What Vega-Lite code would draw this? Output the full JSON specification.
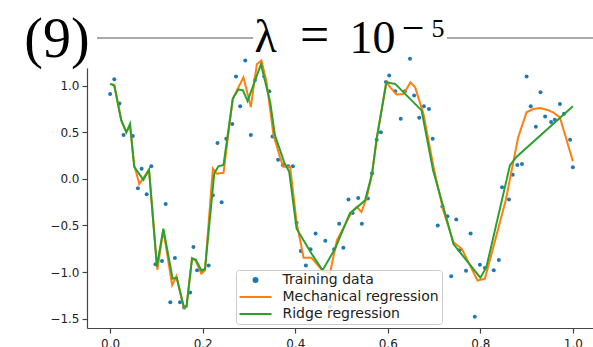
{
  "$schema": "https://vega.github.io/schema/vega-lite/v6.json",
  "width": 509,
  "height": 260,
  "autosize": {"type": "none"},
  "padding": {"left": 87, "top": 68, "right": 0, "bottom": 20},
  "background": "white",
  "config": {
    "view": {"stroke": null},
    "axis": {
      "grid": false,
      "labelFont": "DejaVu Sans",
      "labelFontSize": 12,
      "labelColor": "#222222",
      "domainColor": "#444444",
      "domainWidth": 1.2,
      "tickColor": "#444444",
      "tickWidth": 1.2,
      "tickSize": 5,
      "labelPadding": 3
    }
  },
  "datasets": {
    "training": [
      {"x": 0.000, "y": 0.91}, {"x": 0.009, "y": 1.07}, {"x": 0.020, "y": 0.81}, {"x": 0.029, "y": 0.47},
      {"x": 0.049, "y": 0.46}, {"x": 0.060, "y": -0.10}, {"x": 0.068, "y": 0.11}, {"x": 0.079, "y": -0.165},
      {"x": 0.089, "y": 0.135}, {"x": 0.098, "y": -0.915}, {"x": 0.112, "y": -0.88}, {"x": 0.120, "y": -0.27},
      {"x": 0.130, "y": -1.325}, {"x": 0.140, "y": -0.85}, {"x": 0.151, "y": -1.325}, {"x": 0.160, "y": -1.38},
      {"x": 0.173, "y": -1.22}, {"x": 0.180, "y": -0.73}, {"x": 0.188, "y": -0.98}, {"x": 0.200, "y": -0.985},
      {"x": 0.213, "y": -0.93}, {"x": 0.222, "y": -0.175}, {"x": 0.232, "y": 0.385}, {"x": 0.241, "y": -0.25},
      {"x": 0.251, "y": 0.43}, {"x": 0.264, "y": 0.59}, {"x": 0.272, "y": 1.10}, {"x": 0.281, "y": 0.78},
      {"x": 0.292, "y": 1.27}, {"x": 0.304, "y": 0.47}, {"x": 0.313, "y": 1.06}, {"x": 0.333, "y": 1.10},
      {"x": 0.344, "y": 0.94}, {"x": 0.351, "y": 0.455}, {"x": 0.363, "y": 0.205}, {"x": 0.373, "y": 0.15},
      {"x": 0.385, "y": 0.135}, {"x": 0.395, "y": 0.135}, {"x": 0.403, "y": -0.47}, {"x": 0.412, "y": -0.775},
      {"x": 0.423, "y": -0.93}, {"x": 0.433, "y": -0.755}, {"x": 0.444, "y": -0.585}, {"x": 0.465, "y": -0.665},
      {"x": 0.475, "y": -1.375}, {"x": 0.484, "y": -0.755}, {"x": 0.495, "y": -0.48}, {"x": 0.504, "y": -0.74},
      {"x": 0.515, "y": -0.22}, {"x": 0.524, "y": -0.365}, {"x": 0.536, "y": -0.205}, {"x": 0.544, "y": -0.48},
      {"x": 0.557, "y": -0.21}, {"x": 0.566, "y": 0.06}, {"x": 0.576, "y": 0.42}, {"x": 0.585, "y": 0.50},
      {"x": 0.596, "y": 1.04}, {"x": 0.603, "y": 1.11}, {"x": 0.616, "y": 0.94}, {"x": 0.628, "y": 0.645},
      {"x": 0.637, "y": 0.94}, {"x": 0.648, "y": 1.29}, {"x": 0.657, "y": 0.895}, {"x": 0.668, "y": 0.655},
      {"x": 0.678, "y": 0.78}, {"x": 0.689, "y": 0.75}, {"x": 0.697, "y": 0.43}, {"x": 0.708, "y": -0.50},
      {"x": 0.718, "y": -0.295}, {"x": 0.729, "y": -0.40}, {"x": 0.737, "y": -1.045}, {"x": 0.748, "y": -0.435},
      {"x": 0.755, "y": -0.765}, {"x": 0.769, "y": -0.985}, {"x": 0.779, "y": -0.585}, {"x": 0.788, "y": -1.48},
      {"x": 0.799, "y": -0.92}, {"x": 0.810, "y": -0.955}, {"x": 0.829, "y": -0.98}, {"x": 0.840, "y": -0.87},
      {"x": 0.847, "y": -0.09}, {"x": 0.862, "y": -0.22}, {"x": 0.870, "y": 0.045}, {"x": 0.880, "y": 0.15},
      {"x": 0.890, "y": 0.16}, {"x": 0.900, "y": 1.10}, {"x": 0.909, "y": 0.78}, {"x": 0.920, "y": 0.56},
      {"x": 0.930, "y": 0.93}, {"x": 0.940, "y": 0.67}, {"x": 0.953, "y": 0.61}, {"x": 0.961, "y": 0.635},
      {"x": 0.972, "y": 0.805}, {"x": 0.981, "y": 0.70}, {"x": 0.994, "y": 0.42}, {"x": 1.000, "y": 0.125}
    ],
    "mechanical": [
      {"x": 0.002, "y": 1.02}, {"x": 0.009, "y": 1.01}, {"x": 0.024, "y": 0.63}, {"x": 0.035, "y": 0.50},
      {"x": 0.043, "y": 0.57}, {"x": 0.052, "y": 0.15}, {"x": 0.063, "y": -0.055}, {"x": 0.084, "y": 0.10},
      {"x": 0.102, "y": -0.975}, {"x": 0.115, "y": -0.55}, {"x": 0.134, "y": -1.14}, {"x": 0.143, "y": -1.045},
      {"x": 0.159, "y": -1.38}, {"x": 0.165, "y": -1.37}, {"x": 0.177, "y": -0.85}, {"x": 0.185, "y": -0.88},
      {"x": 0.197, "y": -1.015}, {"x": 0.205, "y": -0.98}, {"x": 0.222, "y": 0.11}, {"x": 0.230, "y": 0.055},
      {"x": 0.245, "y": 0.065}, {"x": 0.265, "y": 0.86}, {"x": 0.288, "y": 1.09}, {"x": 0.295, "y": 0.955},
      {"x": 0.304, "y": 0.77}, {"x": 0.317, "y": 1.23}, {"x": 0.327, "y": 1.27}, {"x": 0.338, "y": 1.04},
      {"x": 0.353, "y": 0.47}, {"x": 0.367, "y": 0.235}, {"x": 0.374, "y": 0.13}, {"x": 0.389, "y": 0.13},
      {"x": 0.403, "y": -0.47}, {"x": 0.418, "y": -0.845}, {"x": 0.435, "y": -0.845}, {"x": 0.459, "y": -0.985},
      {"x": 0.475, "y": -1.015}, {"x": 0.490, "y": -0.66}, {"x": 0.522, "y": -0.355}, {"x": 0.533, "y": -0.30},
      {"x": 0.543, "y": -0.355}, {"x": 0.555, "y": -0.195}, {"x": 0.566, "y": 0.055}, {"x": 0.576, "y": 0.43},
      {"x": 0.597, "y": 1.04}, {"x": 0.605, "y": 0.985}, {"x": 0.619, "y": 0.905}, {"x": 0.634, "y": 0.91},
      {"x": 0.649, "y": 1.035}, {"x": 0.659, "y": 0.985}, {"x": 0.677, "y": 0.70}, {"x": 0.700, "y": 0.10},
      {"x": 0.720, "y": -0.34}, {"x": 0.742, "y": -0.68}, {"x": 0.760, "y": -0.75}, {"x": 0.794, "y": -1.09},
      {"x": 0.810, "y": -1.07}, {"x": 0.855, "y": -0.23}, {"x": 0.868, "y": 0.10}, {"x": 0.882, "y": 0.45},
      {"x": 0.900, "y": 0.715}, {"x": 0.914, "y": 0.75}, {"x": 0.930, "y": 0.76}, {"x": 0.945, "y": 0.74},
      {"x": 0.957, "y": 0.715}, {"x": 0.972, "y": 0.66}, {"x": 1.000, "y": 0.19}
    ],
    "ridge": [
      {"x": 0.000, "y": 1.02}, {"x": 0.009, "y": 1.00}, {"x": 0.024, "y": 0.63}, {"x": 0.035, "y": 0.50},
      {"x": 0.043, "y": 0.59}, {"x": 0.052, "y": 0.13}, {"x": 0.072, "y": -0.01}, {"x": 0.084, "y": 0.10},
      {"x": 0.101, "y": -0.94}, {"x": 0.115, "y": -0.535}, {"x": 0.135, "y": -1.07}, {"x": 0.144, "y": -1.06},
      {"x": 0.159, "y": -1.37}, {"x": 0.165, "y": -1.37}, {"x": 0.177, "y": -0.855}, {"x": 0.185, "y": -0.865},
      {"x": 0.197, "y": -0.98}, {"x": 0.205, "y": -0.97}, {"x": 0.225, "y": 0.06}, {"x": 0.234, "y": 0.135},
      {"x": 0.245, "y": 0.15}, {"x": 0.265, "y": 0.86}, {"x": 0.277, "y": 0.96}, {"x": 0.287, "y": 0.95},
      {"x": 0.297, "y": 0.835}, {"x": 0.326, "y": 1.23}, {"x": 0.346, "y": 0.82}, {"x": 0.356, "y": 0.47},
      {"x": 0.376, "y": 0.18}, {"x": 0.387, "y": 0.075}, {"x": 0.403, "y": -0.535}, {"x": 0.435, "y": -0.80},
      {"x": 0.459, "y": -0.98}, {"x": 0.486, "y": -0.75}, {"x": 0.518, "y": -0.37}, {"x": 0.551, "y": -0.23},
      {"x": 0.566, "y": 0.055}, {"x": 0.576, "y": 0.43}, {"x": 0.597, "y": 1.04}, {"x": 0.605, "y": 1.03},
      {"x": 0.616, "y": 1.02}, {"x": 0.673, "y": 0.735}, {"x": 0.698, "y": 0.09}, {"x": 0.718, "y": -0.265},
      {"x": 0.742, "y": -0.70}, {"x": 0.800, "y": -1.06}, {"x": 0.813, "y": -0.95}, {"x": 0.864, "y": 0.145},
      {"x": 0.878, "y": 0.235}, {"x": 1.000, "y": 0.78}
    ]
  },
  "layer": [
    {
      "data": {"name": "training"},
      "mark": {"type": "point", "filled": true, "size": 16, "opacity": 1},
      "encoding": {
        "x": {"field": "x", "type": "quantitative", "title": null,
              "scale": {"domain": [-0.05, 1.05], "nice": false, "zero": false},
              "axis": {"values": [0, 0.2, 0.4, 0.6, 0.8, 1.0], "format": ".1f", "title": null, "labelPadding": 5}},
        "y": {"field": "y", "type": "quantitative", "title": null,
              "scale": {"domain": [-1.6, 1.19], "nice": false, "zero": false},
              "axis": {"values": [-1.5, -1.0, -0.5, 0.0, 0.5, 1.0], "format": ".1f", "title": null}},
        "color": {
          "datum": "Training data", "type": "nominal",
          "scale": {"domain": ["Training data", "Mechanical regression", "Ridge regression"],
                    "range": ["#1f77b4", "#ff7f0e", "#2ca02c"]},
          "legend": {
            "title": null, "orient": "none", "legendX": 149, "legendY": 202,
            "padding": 3, "strokeColor": "#cccccc", "fillColor": "rgba(255,255,255,0.8)", "cornerRadius": 3,
            "labelFont": "DejaVu Sans", "labelFontSize": 14, "labelColor": "#222222",
            "symbolSize": 16, "symbolStrokeWidth": 2, "symbolOffset": 9.5, "labelOffset": 20, "rowPadding": 3,
            "symbolType": {"expr": "datum.value === 'Training data' ? 'circle' : 'M-8,0L8,0'"},
            "symbolFillColor": {"expr": "scale('color', datum.value)"},
            "symbolStrokeColor": {"expr": "scale('color', datum.value)"},
            "symbolOpacity": 1
          }
        }
      }
    },
    {
      "data": {"name": "mechanical"},
      "mark": {"type": "line", "strokeWidth": 2},
      "encoding": {
        "x": {"field": "x", "type": "quantitative", "title": null},
        "y": {"field": "y", "type": "quantitative", "title": null},
        "color": {"datum": "Mechanical regression", "type": "nominal"}
      }
    },
    {
      "data": {"name": "ridge"},
      "mark": {"type": "line", "strokeWidth": 2},
      "encoding": {
        "x": {"field": "x", "type": "quantitative", "title": null},
        "y": {"field": "y", "type": "quantitative", "title": null},
        "color": {"datum": "Ridge regression", "type": "nominal"}
      }
    },
    {
      "data": {"values": [{}]},
      "mark": {"type": "rule", "color": "#8c8c8c", "strokeWidth": 1.5},
      "encoding": {
        "x": {"datum": -0.0283, "type": "quantitative", "title": null},
        "x2": {"datum": 0.3089},
        "y": {"datum": 1.512, "type": "quantitative", "title": null}
      }
    },
    {
      "data": {"values": [{}]},
      "mark": {"type": "rule", "color": "#8c8c8c", "strokeWidth": 1.5},
      "encoding": {
        "x": {"datum": 0.7281, "type": "quantitative", "title": null},
        "x2": {"datum": 1.06},
        "y": {"datum": 1.512, "type": "quantitative", "title": null}
      }
    },
    {
      "data": {"values": [{}]},
      "mark": {"type": "text", "text": "(9)", "font": "Liberation Serif", "fontSize": 56, "align": "center", "baseline": "alphabetic", "color": "black"},
      "encoding": {
        "x": {"datum": -0.1148, "type": "quantitative", "title": null},
        "y": {"datum": 1.308, "type": "quantitative", "title": null}
      }
    },
    {
      "data": {"values": [{}]},
      "mark": {"type": "text", "text": "λ", "font": "Liberation Serif", "fontSize": 46, "align": "center", "baseline": "alphabetic", "color": "black"},
      "encoding": {
        "x": {"datum": 0.336, "type": "quantitative", "title": null},
        "y": {"datum": 1.362, "type": "quantitative", "title": null}
      }
    },
    {
      "data": {"values": [{}]},
      "mark": {"type": "text", "text": "=", "font": "Liberation Serif", "fontSize": 52, "align": "center", "baseline": "alphabetic", "color": "black"},
      "encoding": {
        "x": {"datum": 0.4418, "type": "quantitative", "title": null},
        "y": {"datum": 1.362, "type": "quantitative", "title": null}
      }
    },
    {
      "data": {"values": [{}]},
      "mark": {"type": "text", "text": "10", "font": "Liberation Serif", "fontSize": 46, "align": "center", "baseline": "alphabetic", "color": "black"},
      "encoding": {
        "x": {"datum": 0.567, "type": "quantitative", "title": null},
        "y": {"datum": 1.351, "type": "quantitative", "title": null}
      }
    },
    {
      "data": {"values": [{}]},
      "mark": {"type": "text", "text": "−", "font": "Liberation Serif", "fontSize": 40, "align": "center", "baseline": "alphabetic", "color": "black"},
      "encoding": {
        "x": {"datum": 0.6547, "type": "quantitative", "title": null},
        "y": {"datum": 1.48, "type": "quantitative", "title": null}
      }
    },
    {
      "data": {"values": [{}]},
      "mark": {"type": "text", "text": "5", "font": "Liberation Serif", "fontSize": 26, "align": "center", "baseline": "alphabetic", "color": "black"},
      "encoding": {
        "x": {"datum": 0.7087, "type": "quantitative", "title": null},
        "y": {"datum": 1.523, "type": "quantitative", "title": null}
      }
    }
  ]
}
